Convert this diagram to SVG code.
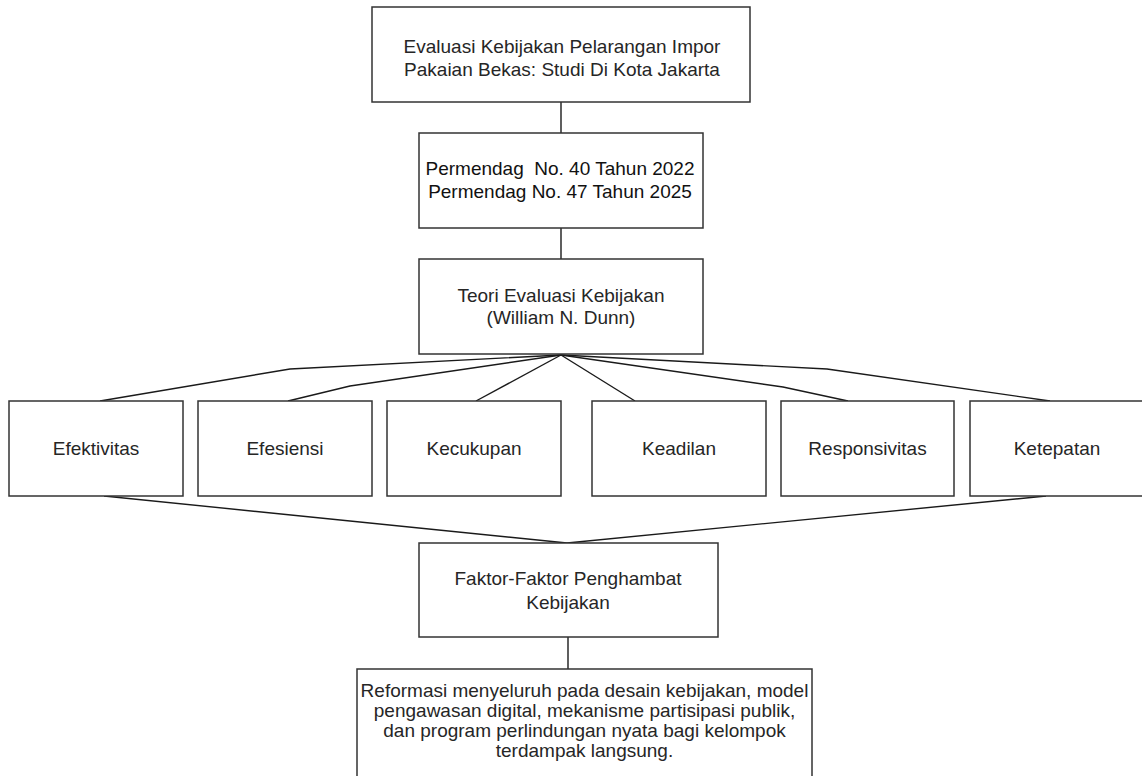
<svg xmlns="http://www.w3.org/2000/svg" width="1142" height="776" viewBox="0 0 1142 776">
<style>
.box{fill:#ffffff;stroke:#333333;stroke-width:1.5}
.t{font-family:"Liberation Sans",Arial,sans-serif;font-size:19px;fill:#262626;text-anchor:middle}
.dk{fill:#111111}
.edge{fill:none;stroke:#1a1a1a;stroke-width:1.4;stroke-linejoin:round}
</style>
<rect width="1142" height="776" fill="#ffffff"/>
<g id="connectors">
<path class="edge" d="M561 102 V133"/>
<path class="edge" d="M561 228 V259"/>
<path class="edge" d="M561 355 L290 369 L100 401"/>
<path class="edge" d="M561 355 L350 386 L288 401"/>
<path class="edge" d="M561 355 L476 401"/>
<path class="edge" d="M561 355 L635 401"/>
<path class="edge" d="M561 355 L783 387 L848 401"/>
<path class="edge" d="M561 355 L827 369 L1050 401"/>
<path class="edge" d="M104 496 L567 543"/>
<path class="edge" d="M1046 496 L567 543"/>
<path class="edge" d="M568 637 V669"/>
</g>
<g id="node-title">
<rect class="box" x="372" y="7" width="378" height="95"/>
<text class="t" x="562" y="53">Evaluasi Kebijakan Pelarangan Impor</text>
<text class="t" x="562" y="76">Pakaian Bekas: Studi Di Kota Jakarta</text>
</g>
<g id="node-permendag">
<rect class="box" x="419" y="133" width="284" height="95"/>
<text class="t dk" x="560" y="175" xml:space="preserve">Permendag  No. 40 Tahun 2022</text>
<text class="t dk" x="560" y="198">Permendag No. 47 Tahun 2025</text>
</g>
<g id="node-teori">
<rect class="box" x="419" y="259" width="284" height="95"/>
<text class="t" x="561" y="301.5">Teori Evaluasi Kebijakan</text>
<text class="t" x="561" y="324">(William N. Dunn)</text>
</g>
<g id="node-efektivitas">
<rect class="box" x="9" y="401" width="174" height="95"/>
<text class="t" x="96" y="454.5">Efektivitas</text>
</g>
<g id="node-efesiensi">
<rect class="box" x="198" y="401" width="174" height="95"/>
<text class="t" x="285" y="454.5">Efesiensi</text>
</g>
<g id="node-kecukupan">
<rect class="box" x="387" y="401" width="174" height="95"/>
<text class="t" x="474" y="454.5">Kecukupan</text>
</g>
<g id="node-keadilan">
<rect class="box" x="592" y="401" width="174" height="95"/>
<text class="t" x="679" y="454.5">Keadilan</text>
</g>
<g id="node-responsivitas">
<rect class="box" x="781" y="401" width="173" height="95"/>
<text class="t" x="867.5" y="454.5">Responsivitas</text>
</g>
<g id="node-ketepatan">
<rect class="box" x="970" y="401" width="174" height="95"/>
<text class="t" x="1057" y="454.5">Ketepatan</text>
</g>
<g id="node-faktor">
<rect class="box" x="419" y="543" width="299" height="94"/>
<text class="t" x="568" y="585">Faktor-Faktor Penghambat</text>
<text class="t" x="568" y="609">Kebijakan</text>
</g>
<g id="node-reformasi">
<rect class="box" x="357" y="669" width="455" height="120"/>
<text class="t" x="584.5" y="697">Reformasi menyeluruh pada desain kebijakan, model</text>
<text class="t" x="584.5" y="716.5">pengawasan digital, mekanisme partisipasi publik,</text>
<text class="t" x="584.5" y="736.5">dan program perlindungan nyata bagi kelompok</text>
<text class="t" x="584.5" y="756.5">terdampak langsung.</text>
</g>
</svg>
